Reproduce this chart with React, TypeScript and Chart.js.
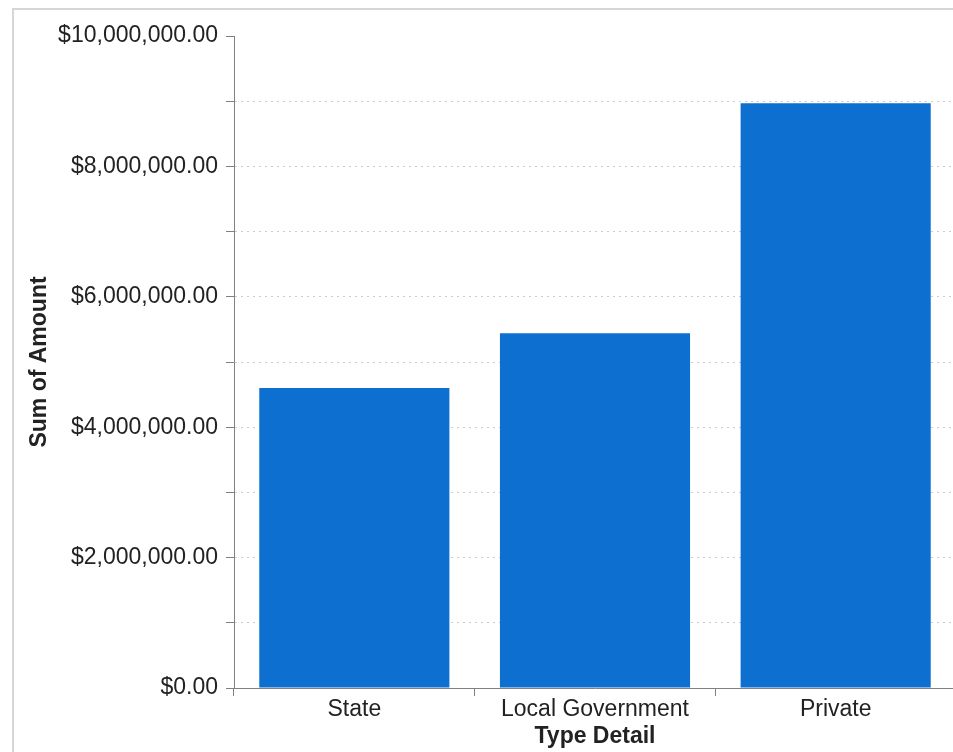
import React, { useEffect, useRef } from "react";
import { Chart, registerables } from "chart.js";

Chart.register(...registerables);

const categories = ["State", "Local Government", "Private"];
const amounts = [4600000, 5440000, 8970000];
const yMin = 0;
const yMax = 10000000;
const yStep = 1000000;
const yLabelStep = 2000000;
const xTitle = "Type Detail";
const yTitle = "Sum of Amount";

const FONT = "'Liberation Sans', Arial, Helvetica, sans-serif";
const TEXT = "#222222";
const AXIS = "#808080";

function fmtMoney(v: number): string {
  return "$" + v.toLocaleString("en-US", { minimumFractionDigits: 2, maximumFractionDigits: 2 });
}

export default function App() {
  const ref = useRef<HTMLCanvasElement | null>(null);
  useEffect(() => {
    if (!ref.current) return;
    const chart = new Chart(ref.current, {
      type: "bar",
      data: {
        labels: categories,
        datasets: [
          {
            label: yTitle,
            data: amounts,
            backgroundColor: "#0d6fcf",
            borderWidth: 0,
            barPercentage: 0.79,
            categoryPercentage: 1,
          },
        ],
      },
      options: {
        animation: false,
        responsive: true,
        maintainAspectRatio: false,
        layout: { padding: { top: 36, left: 0, right: 0, bottom: 0 } },
        plugins: { legend: { display: false }, tooltip: { enabled: false }, title: { display: false } },
        scales: {
          x: {
            type: "category",
            offset: true,
            grid: {
              offset: true,
              drawOnChartArea: false,
              drawTicks: true,
              tickLength: 8,
              tickColor: AXIS,
              tickWidth: 1,
            },
            border: { display: true, color: AXIS, width: 1 },
            ticks: {
              color: TEXT,
              font: { family: FONT, size: 23 },
              padding: 0,
              maxRotation: 0,
              autoSkip: false,
            },
            title: {
              display: true,
              text: xTitle,
              color: TEXT,
              font: { family: FONT, size: 23, weight: "bold" },
              padding: { top: 0, bottom: 2 },
            },
            afterFit: (scale: any) => {
              scale.height = 64;
            },
          },
          y: {
            min: yMin,
            max: yMax,
            grid: {
              drawOnChartArea: true,
              drawTicks: true,
              tickLength: 8,
              tickColor: AXIS,
              tickWidth: 1,
              lineWidth: 1,
              color: (ctx: any) => {
                const v = ctx.tick ? ctx.tick.value : null;
                if (v === yMin || v === yMax) return "rgba(0,0,0,0)";
                return "#cdcdcd";
              },
            },
            border: { display: true, color: AXIS, width: 1, dash: [2, 4] },
            ticks: {
              stepSize: yStep,
              color: TEXT,
              font: { family: FONT, size: 23 },
              padding: 8,
              autoSkip: false,
              callback: (value: any) => {
                const v = Number(value);
                return v % yLabelStep === 0 ? fmtMoney(v) : "";
              },
            },
            title: {
              display: true,
              text: yTitle,
              color: TEXT,
              font: { family: FONT, size: 23, weight: "bold" },
              padding: { top: 26, bottom: 0 },
            },
            afterFit: (scale: any) => {
              scale.width = 234;
            },
          },
        },
      } as any,
    });
    return () => chart.destroy();
  }, []);

  return (
    <div style={{ position: "fixed", left: 0, top: 0, width: 956, height: 752, background: "#ffffff", overflow: "hidden" }}>
      <div
        style={{
          position: "absolute",
          left: 12,
          top: 8,
          right: 0,
          bottom: 0,
          borderLeft: "2px solid #d6d6d6",
          borderTop: "2px solid #d6d6d6",
        }}
      />
      <canvas ref={ref} style={{ position: "absolute", left: 0, top: 0 }} />
    </div>
  );
}
